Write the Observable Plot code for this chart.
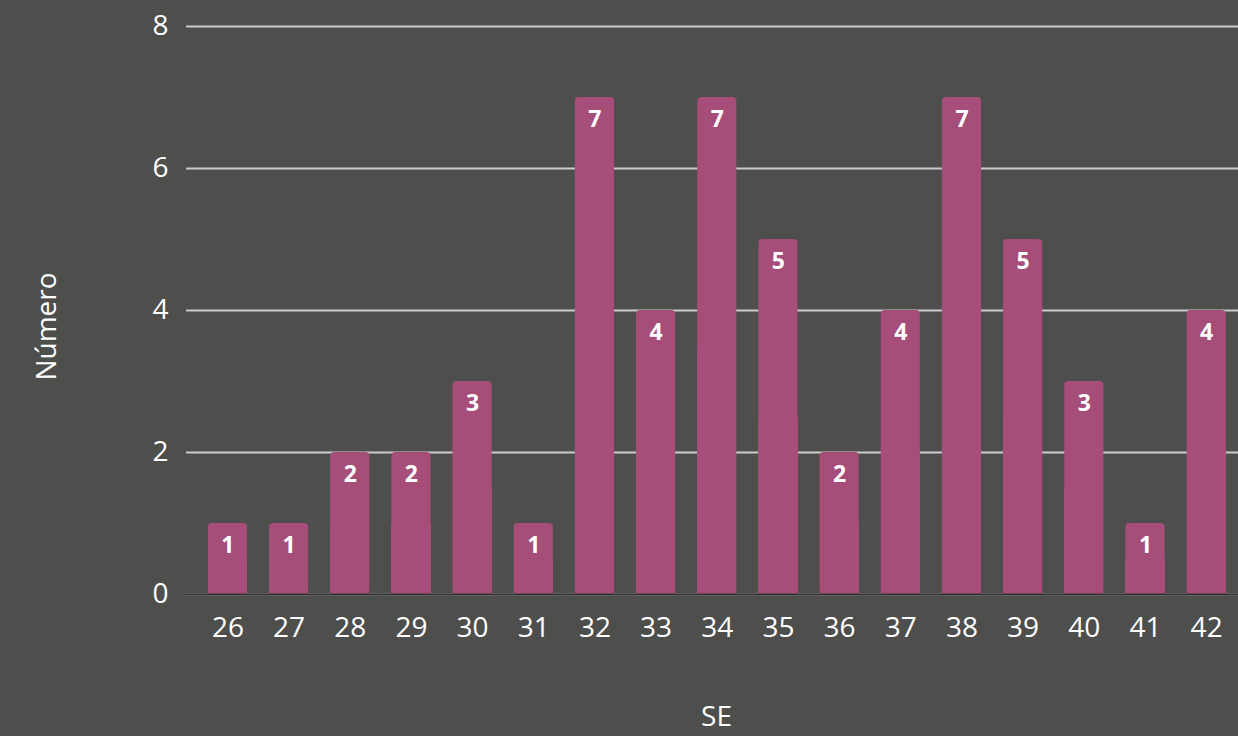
<!DOCTYPE html>
<html>
<head>
<meta charset="utf-8">
<script src="https://cdn.jsdelivr.net/npm/d3@7"></script>
<script src="https://cdn.jsdelivr.net/npm/@observablehq/plot@0.6"></script>
<style>
  html, body { margin: 0; padding: 0; background: #4e4e4d; }
</style>
</head>
<body>
<div id="chart"></div>
<script>
const weeks = ["26","27","28","29","30","31","32","33","34","35","36","37","38","39","40","41","42"];
const counts = [1,1,2,2,3,1,7,4,7,5,2,4,7,5,3,1,4];
const yTicks = [0,2,4,6,8];
const xTitle = "SE";
const yTitle = "Número";

const data = weeks.map((w, i) => ({week: w, n: counts[i]}));

const chart = Plot.plot({
  width: 1238,
  height: 736,
  marginTop: 26,
  marginBottom: 142,
  marginLeft: 186,
  marginRight: 0,
  style: {background: "#4e4e4d", color: "#ffffff", fontFamily: "'Open Sans', sans-serif", fontSize: "28px"},
  x: {domain: weeks, paddingInner: 0.36, paddingOuter: 0.279, align: 0.64, round: false, label: null},
  y: {domain: [0, 8], label: null},
  marks: [
    Plot.gridY(yTicks, {stroke: "#cccccc", strokeOpacity: 1, strokeWidth: 2}),
    Plot.barY(data, {x: "week", y: "n", fill: "#a64d79", rx: 4}),
    Plot.barY(data, {x: "week", y: d => d.n / 2, fill: "#a64d79", shapeRendering: "crispEdges"}),
    Plot.ruleY([0], {stroke: "#333333", strokeWidth: 2}),
    Plot.text(data, {x: "week", y: "n", text: d => String(d.n), dy: 22, fill: "#ffffff", fontWeight: "bold", fontSize: 23}),
    Plot.axisX({tickSize: 0, tickPadding: 23, fill: "#ffffff", fontSize: 28, label: null}),
    Plot.axisY(yTicks, {tickSize: 0, tickPadding: 18, fill: "#ffffff", fontSize: 28, tickFormat: d3.format("d"), label: null}),
    Plot.text([yTitle], {frameAnchor: "left", textAnchor: "middle", lineAnchor: "middle", dx: -139, dy: 16, rotate: -90, fill: "#ffffff", fontSize: 28}),
    Plot.text([xTitle], {frameAnchor: "bottom", textAnchor: "middle", lineAnchor: "middle", dx: 4, dy: 123, fill: "#ffffff", fontSize: 28})
  ]
});
document.getElementById("chart").appendChild(chart);
</script>
</body>
</html>
